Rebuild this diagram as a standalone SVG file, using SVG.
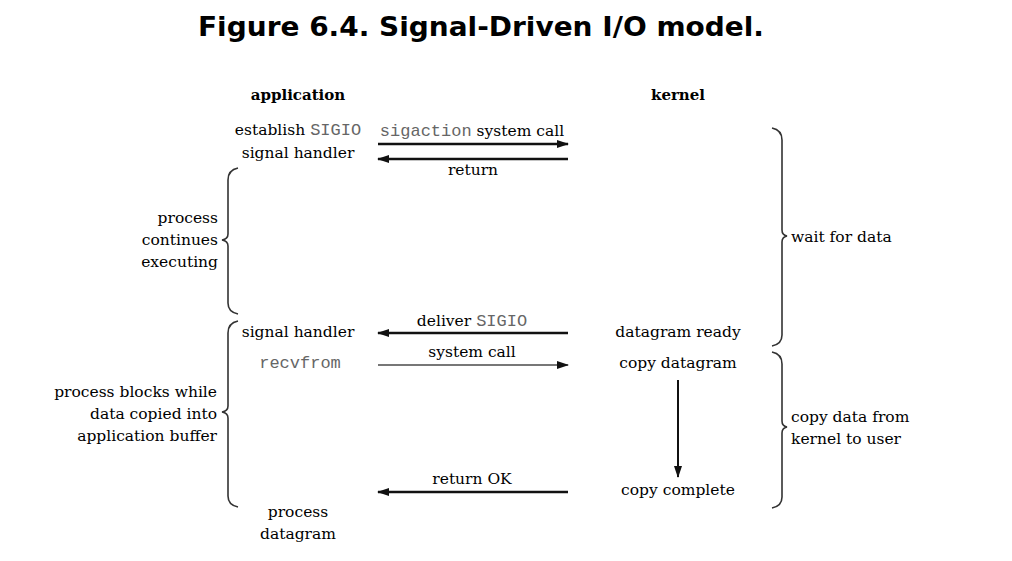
<svg xmlns="http://www.w3.org/2000/svg" width="1012" height="561" viewBox="0 0 1012 561">
<defs>
<style>
.t{font-family:"DejaVu Serif","Liberation Serif",serif;font-size:15.5px;fill:#000}
.b{font-family:"DejaVu Serif","Liberation Serif",serif;font-size:15px;font-weight:bold;fill:#000}
.m{font-family:"Liberation Mono","DejaVu Sans Mono",monospace;font-size:17px;fill:#666}
.title{font-family:"DejaVu Sans",Verdana,sans-serif;font-size:27px;font-weight:bold;fill:#000}
.ln{stroke:#111;stroke-width:2.5;fill:none}
.br{stroke:#333;stroke-width:1.6;fill:none}
</style>
<marker id="ah" viewBox="0 0 12 8" refX="11" refY="4" markerWidth="13" markerHeight="8" markerUnits="userSpaceOnUse" orient="auto">
<path d="M0,0 L12,4 L0,8 Z" fill="#111"/>
</marker>
</defs>
<rect width="1012" height="561" fill="#fff"/>
<text class="title" x="481" y="36" text-anchor="middle" textLength="566" lengthAdjust="spacingAndGlyphs">Figure 6.4. Signal-Driven I/O model.</text>

<g id="headers">
<text class="b" x="298" y="100" text-anchor="middle">application</text>
<text class="b" x="678" y="100" text-anchor="middle">kernel</text>
</g>

<g id="app-establish">
<text class="t" x="298" y="135" text-anchor="middle">establish <tspan class="m">SIGIO</tspan></text>
<text class="t" x="298" y="158" text-anchor="middle">signal handler</text>
</g>
<g id="app-continues">
<text class="t" x="218" y="223" text-anchor="end">process</text>
<text class="t" x="218" y="245" text-anchor="end">continues</text>
<text class="t" x="218" y="267" text-anchor="end">executing</text>
</g>
<g id="app-signal-handler">
<text class="t" x="298" y="337" text-anchor="middle">signal handler</text>
</g>
<g id="app-recvfrom">
<text class="m" x="300" y="368" text-anchor="middle">recvfrom</text>
</g>
<g id="app-blocks">
<text class="t" x="217" y="397" text-anchor="end">process blocks while</text>
<text class="t" x="217" y="419" text-anchor="end">data copied into</text>
<text class="t" x="217" y="441" text-anchor="end">application buffer</text>
</g>
<g id="app-process-datagram">
<text class="t" x="298" y="517" text-anchor="middle">process</text>
<text class="t" x="298" y="539" text-anchor="middle">datagram</text>
</g>
<g id="kernel-ready">
<text class="t" x="678" y="337" text-anchor="middle">datagram ready</text>
</g>
<g id="kernel-copy">
<text class="t" x="678" y="368" text-anchor="middle">copy datagram</text>
</g>
<g id="kernel-complete">
<text class="t" x="678" y="495" text-anchor="middle">copy complete</text>
</g>
<g id="wait-for-data">
<text class="t" x="791" y="242">wait for data</text>
</g>
<g id="copy-data">
<text class="t" x="791" y="422">copy data from</text>
<text class="t" x="791" y="444">kernel to user</text>
</g>

<g id="braces">
<path class="br" d="M238,168 Q228,170 228,180 L228,234 Q228,239 222,240 Q228,241 228,246 L228,303 Q228,312 238,314"/>
<path class="br" d="M238,321 Q228,323 228,333 L228,406 Q228,411 222,412 Q228,413 228,418 L228,496 Q228,505 238,507"/>
<path class="br" d="M772,128 Q782,130 782,140 L782,230 Q782,235 787,236 Q782,237 782,242 L782,335 Q782,344 772,346"/>
<path class="br" d="M772,352 Q782,354 782,364 L782,421 Q782,426 787,427 Q782,428 782,433 L782,497 Q782,506 772,508"/>
</g>

<g id="connectors">
<line class="ln" x1="378" y1="144" x2="568" y2="144" marker-end="url(#ah)"/>
<text class="t" x="472" y="136" text-anchor="middle"><tspan class="m">sigaction</tspan> system call</text>
<line class="ln" x1="568" y1="159" x2="378" y2="159" marker-end="url(#ah)"/>
<text class="t" x="473" y="175" text-anchor="middle">return</text>
<line class="ln" x1="568" y1="333" x2="378" y2="333" marker-end="url(#ah)"/>
<text class="t" x="472" y="326" text-anchor="middle">deliver <tspan class="m">SIGIO</tspan></text>
<line class="ln" x1="378" y1="365" x2="568" y2="365" marker-end="url(#ah)" style="stroke:#777;stroke-width:2"/>
<text class="t" x="472" y="357" text-anchor="middle">system call</text>
<line class="ln" x1="678" y1="380" x2="678" y2="477" style="stroke-width:2" marker-end="url(#ah)"/>
<line class="ln" x1="568" y1="492" x2="378" y2="492" marker-end="url(#ah)"/>
<text class="t" x="472" y="484" text-anchor="middle">return OK</text>
</g>
</svg>
